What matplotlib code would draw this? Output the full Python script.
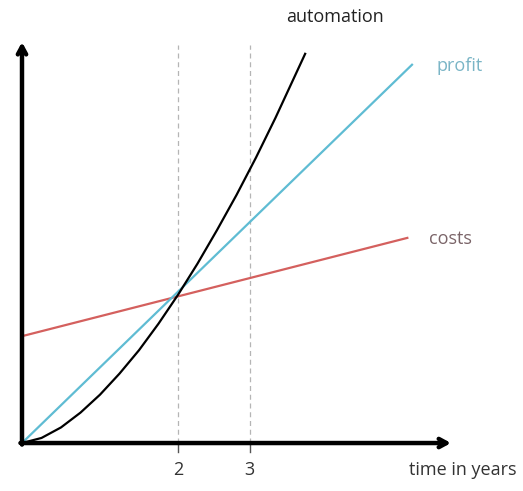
import numpy as np
import matplotlib
matplotlib.use('Agg')
from matplotlib import pyplot as plt

# values (x in years, y in same units)
profit_x = [0, 5.0]
profit_y = [0, 4.85]
costs_x = [0, 4.94]
costs_y = [1.37, 2.63]
auto_x = [0, 0.25, 0.5, 0.75, 1, 1.25, 1.5, 1.75, 2, 2.25, 2.5, 2.75, 3, 3.25, 3.63]
auto_y = [0, 0.065, 0.20, 0.39, 0.62, 0.89, 1.19, 1.53, 1.9, 2.30, 2.73, 3.18, 3.66, 4.17, 4.99]
tick_pos = [2, 2.92]
tick_labels = ['2', '3']

plt.rcParams['font.family'] = ['Open Sans', 'DejaVu Sans']

fig = plt.figure(figsize=(5.23, 4.91), dpi=100)
ax = fig.add_axes([0, 0, 1, 1])
ax.set_xlim(-0.282, 6.423)
ax.set_ylim(-0.615, 5.68)
ax.axis('off')

# dashed guides
for t in tick_pos:
    ax.plot([t, t], [0, 5.1], color='#b5b5b5', lw=0.9, ls=(0, (4, 3)), zorder=1)
    ax.plot([t, t], [0, -0.11], color='#555555', lw=1.0, zorder=1)

ax.plot(costs_x, costs_y, color='#d4605e', lw=1.6, zorder=2)
ax.plot(profit_x, profit_y, color='#5fbcd3', lw=1.6, zorder=3)
ax.plot(auto_x, auto_y, color='black', lw=1.6, zorder=4, solid_joinstyle='round')

# axes arrows
arrow = dict(arrowstyle='->,head_length=0.55,head_width=0.3', lw=3.2, color='black',
             shrinkA=0, shrinkB=0, capstyle='round')
ax.annotate('', xy=(0, 5.14), xytext=(0, -0.02), arrowprops=arrow, zorder=5)
ax.annotate('', xy=(5.5, 0), xytext=(-0.02, 0), arrowprops=arrow, zorder=5)

fs = 13
for t, lab in zip(tick_pos, tick_labels):
    ax.text(t, -0.34, lab, ha='center', va='center', fontsize=fs, color='#333333')
ax.text(5.65, -0.34, 'time in years', ha='center', va='center', fontsize=fs, color='#333333')
ax.text(4.01, 5.46, 'automation', ha='center', va='center', fontsize=fs, color='#222222')
ax.text(5.32, 4.83, 'profit', ha='left', va='center', fontsize=fs, color='#7ab5c6')
ax.text(5.22, 2.62, 'costs', ha='left', va='center', fontsize=fs, color='#7a6468')

plt.savefig('out.png', dpi=100)
